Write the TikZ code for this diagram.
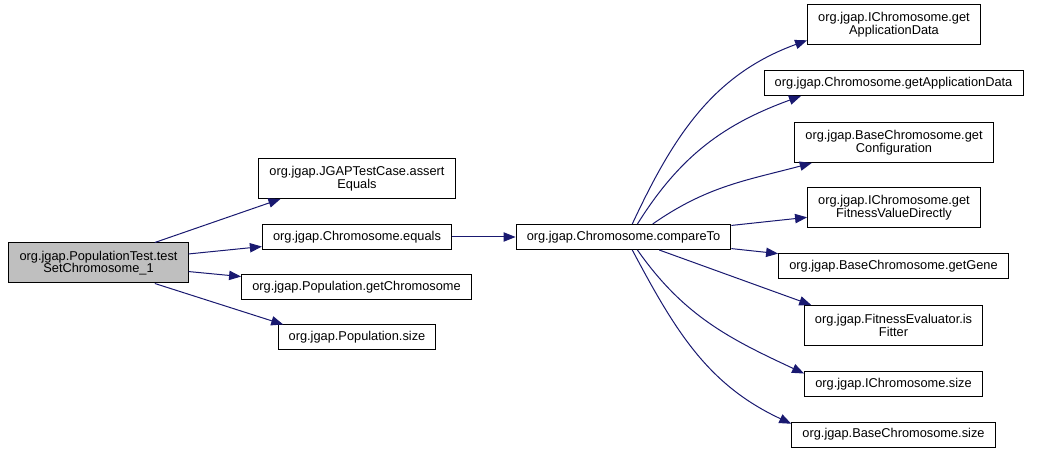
\documentclass[tikz,border=0pt]{standalone}
\usepackage{fontspec}
\setmainfont{Liberation Sans}
\usetikzlibrary{arrows.meta}
\definecolor{calledge}{HTML}{191970}
\definecolor{rootgray}{HTML}{BFBFBF}

\begin{document}
\begin{tikzpicture}[x=0.75pt,y=0.75pt,
	fn/.style={draw,line width=0.75pt,align=center,inner xsep=8pt,inner ysep=4.8pt,
		minimum height=18.75pt,font=\fontsize{9.6}{9.5}\selectfont},
	fntwo/.style={fn,minimum height=30pt},
	call/.style={draw=calledge,line width=0.75pt,-{Triangle[length=9pt,width=7pt,fill=calledge]}}]
	\useasboundingbox (0,0) rectangle (1059,453);
	% caller and the methods it calls
	\node [fntwo,fill=rootgray] (test) at (98.5,190) {org.jgap.PopulationTest.test\\SetChromosome\_1};
	\node [fntwo] (assertEq) at (357,274.5) {org.jgap.JGAPTestCase.assert\\Equals};
	\node [fn] (equals) at (357,216) {org.jgap.Chromosome.equals};
	\node [fn] (getChrom) at (356.5,165.5) {org.jgap.Population.getChromosome};
	\node [fn] (popSize) at (357,115.5) {org.jgap.Population.size};
	\node [fn] (compareTo) at (623.5,216) {org.jgap.Chromosome.compareTo};
	% callees of compareTo
	\node [fntwo] (iAppData) at (894,428) {org.jgap.IChromosome.get\\ApplicationData};
	\node [fn] (appData) at (893.5,370) {org.jgap.Chromosome.getApplicationData};
	\node [fntwo] (getConfig) at (894,310.5) {org.jgap.BaseChromosome.get\\Configuration};
	\node [fntwo] (getFitness) at (894,245) {org.jgap.IChromosome.get\\FitnessValueDirectly};
	\node [fn] (getGene) at (893.5,187) {org.jgap.BaseChromosome.getGene};
	\node [fntwo] (isFitter) at (893.5,127.5) {org.jgap.FitnessEvaluator.is\\Fitter};
	\node [fn] (iSize) at (893.5,68.5) {org.jgap.IChromosome.size};
	\node [fn] (baseSize) at (893.5,18.5) {org.jgap.BaseChromosome.size};

	\draw [call] (test.20) -- (assertEq.195);
	\draw [call] (test) -- (equals);
	\draw [call] (test) -- (getChrom);
	\draw [call] (test.-20) -- (popSize.170);
	\draw [call] (equals) -- (compareTo);
	\draw [call] (compareTo.56) to [out=65,in=200] (iAppData.190);
	\draw [call] (compareTo.43) to [out=58,in=200] (appData.188);
	\draw [call] (compareTo.24) to [out=35,in=195] (getConfig.194);
	\draw [call] (compareTo) -- (getFitness);
	\draw [call] (compareTo) -- (getGene);
	\draw [call] (compareTo.-20) -- (isFitter.166);
	\draw [call] (compareTo.-43) to [out=-55,in=155] (iSize.173);
	\draw [call] (compareTo.-56) to [out=-62,in=155] (baseSize.174);
\end{tikzpicture}
\end{document}
